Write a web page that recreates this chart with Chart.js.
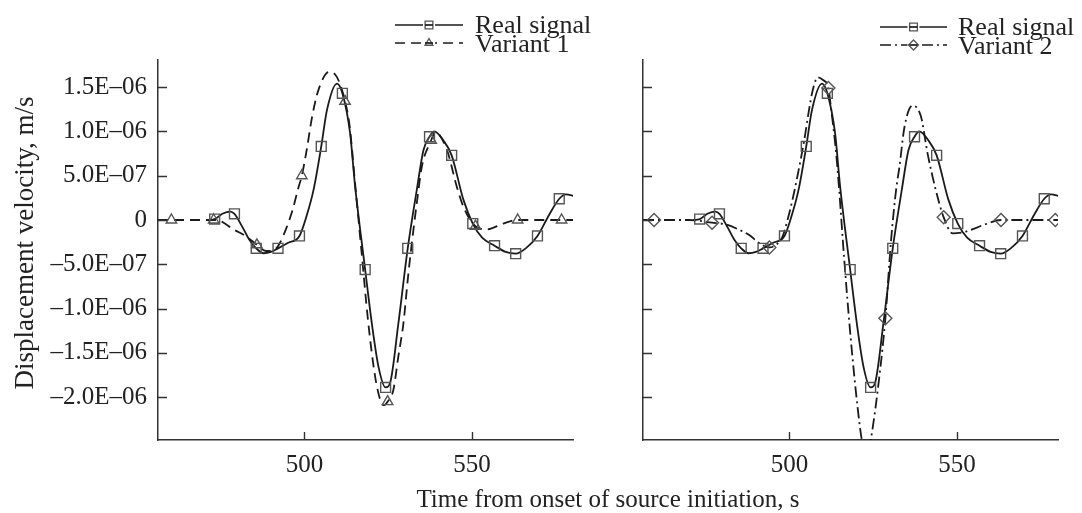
<!DOCTYPE html>
<html>
<head>
<meta charset="utf-8">
<script src="https://cdn.jsdelivr.net/npm/chart.js@4"></script>
<style>
  html, body { margin:0; padding:0; background:#fff; }
  body { width:1082px; height:513px; overflow:hidden; position:relative;
         font-family:"Liberation Serif","Times New Roman",serif; color:#222; }
  #c1 { position:absolute; left:0; top:0; }
  #c2 { position:absolute; left:600px; top:0; }
  #xtitle { position:absolute; left:308px; width:600px; top:484px; height:30px;
            line-height:30px; text-align:center; font-size:25px; white-space:nowrap; }
  #ytitle { position:absolute; left:-176px; top:228px; width:400px; height:30px;
            line-height:30px; text-align:center; font-size:27px; white-space:nowrap;
            transform:rotate(-90deg); }
</style>
</head>
<body>
<canvas id="c1" width="600" height="513"></canvas>
<canvas id="c2" width="482" height="513"></canvas>
<div id="xtitle">Time from onset of source initiation, s</div>
<div id="ytitle">Displacement velocity, m/s</div>
<script>
// ---- data (time in s, velocity in units of 1E−07 m/s) ----
const xTicks = [500, 550];
const xTickLabels = ['500', '550'];
const yTicks = [-20, -15, -10, -5, 0, 5, 10, 15];
const yTickLabels = ['–2.0E–06', '–1.5E–06', '–1.0E–06', '–5.0E–07', '0', '5.0E–07', '1.0E–06', '1.5E–06'];

const realT = [471.3, 473.2, 475.5, 477.9, 479.1, 481.5, 483.5, 485.6, 487.8, 490.0, 492.1, 495.0, 498.5, 500.5, 502.7, 505.0, 506.7, 509.7, 511.3, 513.6, 515.1, 518.1, 520.1, 522.1, 524.2, 525.6, 528.0, 530.8, 533.5, 535.5, 537.3, 538.7, 541.4, 543.9, 547.4, 550.2, 553.0, 556.7, 560.0, 563.0, 566.0, 569.5, 573.0, 576.0, 578.0, 580.5];
const realV = [0, 0.1, 0.7, 0.95, 0.7, -0.8, -2.2, -3.2, -3.75, -3.6, -3.2, -2.6, -1.8, 0.3, 3.4, 8.3, 12.4, 15.4, 14.3, 9.8, 3.8, -5.6, -11.7, -16.6, -18.9, -18.3, -11.7, -3.2, 3.4, 7.9, 9.4, 10.0, 9.0, 7.3, 2.3, -0.4, -2.0, -2.9, -3.6, -3.8, -3.2, -1.8, 0.6, 2.4, 2.9, 2.7];
const realMarkT = [473.2, 479.1, 485.6, 492.1, 498.5, 505.0, 511.3, 518.1, 524.2, 530.8, 537.3, 543.9, 550.2, 556.7, 563.0, 569.5, 576.0];
const realMarkV = [0.1, 0.7, -3.2, -3.2, -1.8, 8.3, 14.3, -5.6, -18.9, -3.2, 9.4, 7.3, -0.4, -2.9, -3.8, -1.8, 2.4];

const var1T = [456.3, 460.3, 466.0, 472.9, 474.8, 478.8, 482.8, 485.8, 488.5, 490.5, 492.5, 494.5, 496.5, 498.0, 499.2, 500.7, 502.2, 503.7, 505.7, 507.2, 509.2, 512.1, 513.5, 515.0, 517.0, 519.0, 521.0, 522.6, 523.6, 524.8, 526.5, 528.0, 529.5, 531.0, 532.5, 533.5, 535.0, 537.8, 539.0, 542.5, 545.4, 547.4, 551.0, 554.4, 559.3, 563.6, 570.0, 576.7, 580.2];
const var1V = [0, 0, 0, 0, -0.1, -1.05, -1.9, -2.8, -3.5, -3.5, -2.7, -1.0, 1.2, 3.4, 5.0, 8.0, 11.5, 14.1, 16.1, 16.7, 16.4, 13.4, 10.5, 4.5, -3.5, -11.5, -17.5, -20.3, -20.9, -20.5, -19.2, -15.4, -11.7, -6.0, -1.1, 1.9, 6.0, 9.0, 9.9, 7.9, 3.8, 1.5, -0.7, -1.05, -0.4, 0, 0, 0, 0];
const var1MarkT = [460.3, 472.9, 485.8, 499.2, 512.1, 524.8, 537.8, 551.0, 563.6, 576.7];
const var1MarkV = [0, 0, -2.8, 5.0, 13.4, -20.5, 9.0, -0.7, 0, 0];

const var2T = [456.3, 459.6, 470.0, 476.9, 481.0, 485.0, 488.0, 491.0, 494.0, 496.0, 497.9, 499.4, 500.9, 502.4, 504.4, 505.9, 506.9, 508.4, 510.0, 511.6, 512.4, 513.9, 514.8, 516.3, 518.3, 520.3, 521.6, 522.8, 524.2, 526.8, 528.6, 530.3, 531.8, 532.8, 534.3, 536.7, 539.2, 541.2, 543.5, 546.0, 548.7, 552.7, 557.6, 563.1, 570.0, 579.3, 580.2];
const var2V = [0, 0, 0, -0.3, -0.5, -1.1, -1.7, -2.6, -3.1, -2.8, -1.9, 0.0, 2.3, 5.0, 9.0, 12.6, 14.6, 16.1, 15.8, 14.9, 12.6, 7.6, 3.5, -4.3, -13.5, -21.1, -24.9, -27.0, -24.9, -17.7, -11.1, -2.3, 3.4, 6.0, 10.5, 12.9, 11.7, 7.5, 3.6, 0.3, -1.5, -1.3, -0.6, 0, 0, 0, 0];
const var2MarkT = [459.6, 476.9, 494.0, 511.6, 528.6, 546.0, 563.1, 579.3];
const var2MarkV = [0, -0.3, -3.1, 14.9, -11.1, 0.3, 0, 0];

const seriesNames = ['Real signal', 'Variant 1', 'Variant 2'];

// ---- helpers ----
const pts = (xs, ys) => xs.map((x, i) => ({ x: x, y: ys[i] }));
const SERIF = '"Liberation Serif","Times New Roman",serif';
const LINE_COLOR = '#1a1a1a';
const MARK_COLOR = '#555';

const styles = {
  real: { dash: [], point: 'rect', r: 7 },
  v1:   { dash: [10, 6], point: 'triangle', r: 6 },
  v2:   { dash: [11, 4, 2, 4], point: 'rectRot', r: 6.5 }
};

function lineDs(label, data, st) {
  return { label, data, borderColor: LINE_COLOR, borderWidth: 1.8, borderDash: st.dash,
           pointRadius: 0, cubicInterpolationMode: 'monotone', fill: false, order: 2 };
}
function markDs(label, data, st) {
  return { label, data, showLine: false, pointStyle: st.point, pointRadius: st.r,
           pointBorderColor: MARK_COLOR, pointBackgroundColor: 'rgba(0,0,0,0)',
           pointBorderWidth: 1.4, order: 1 };
}

const inwardTicks = {
  id: 'inwardTicks',
  afterDraw(chart) {
    const ctx = chart.ctx, xs = chart.scales.x, ys = chart.scales.y, a = chart.chartArea;
    ctx.save();
    ctx.strokeStyle = '#333'; ctx.lineWidth = 1.4;
    ctx.beginPath();
    xTicks.forEach(v => { const p = Math.round(xs.getPixelForValue(v)) + 0.5;
      ctx.moveTo(p, a.bottom); ctx.lineTo(p, a.bottom - 8); });
    yTicks.forEach(v => { const p = Math.round(ys.getPixelForValue(v)) + 0.5;
      ctx.moveTo(a.left, p); ctx.lineTo(a.left + 9, p); });
    ctx.stroke();
    ctx.restore();
  }
};

const sketchLegend = {
  id: 'sketchLegend',
  afterDraw(chart, args, opts) {
    if (!opts || !opts.items) return;
    const ctx = chart.ctx;
    ctx.save();
    opts.items.forEach((it, i) => {
      const y = opts.y[i];
      ctx.strokeStyle = LINE_COLOR; ctx.lineWidth = 1.7;
      ctx.setLineDash(it.style.dash);
      ctx.beginPath(); ctx.moveTo(opts.x1, y); ctx.lineTo(opts.x2, y); ctx.stroke();
      ctx.setLineDash([]);
      ctx.fillStyle = '#fff';
      const cx = (opts.x1 + opts.x2) / 2;
      ctx.fillRect(cx - 6, y - 6, 12, 12);
      ctx.strokeStyle = MARK_COLOR; ctx.lineWidth = 1.3;
      Chart.helpers.drawPoint(ctx, { pointStyle: it.style.point, radius: it.style.r - 1.5, rotation: 0, borderWidth: 1.3 }, cx, y);
      ctx.strokeStyle = LINE_COLOR; ctx.lineWidth = 1.7;
      ctx.setLineDash(it.style.dash);
      ctx.beginPath(); ctx.moveTo(cx - 4, y); ctx.lineTo(cx + 4, y); ctx.stroke();
      ctx.setLineDash([]);
      ctx.fillStyle = '#222';
      ctx.font = '26px ' + SERIF;
      ctx.textBaseline = 'alphabetic';
      ctx.textAlign = 'left';
      ctx.fillText(it.label, opts.tx, opts.base[i]);
    });
    ctx.restore();
  }
};

function makeOptions(showYLabels, yWidth, padRight, legendOpts) {
  return {
    responsive: false, animation: false,
    layout: { padding: { top: 60, right: padRight, bottom: 0, left: 0 } },
    plugins: { legend: { display: false }, tooltip: { enabled: false }, sketchLegend: legendOpts },
    scales: {
      x: {
        type: 'linear', min: 456.3, max: 580.1,
        afterBuildTicks: s => { s.ticks = xTicks.map(v => ({ value: v })); },
        afterFit: s => { s.height = 73; },
        grid: { display: false, drawTicks: false },
        border: { display: true, color: '#333', width: 1.5 },
        ticks: { color: '#222', font: { family: SERIF, size: 25 }, padding: 10, maxRotation: 0,
                 callback: v => xTickLabels[xTicks.indexOf(v)] }
      },
      y: {
        type: 'linear', min: -24.83, max: 18.06,
        afterBuildTicks: s => { s.ticks = yTicks.map(v => ({ value: v })); },
        afterFit: s => { s.width = yWidth; },
        grid: { display: false, drawTicks: false },
        border: { display: true, color: '#333', width: 1.5 },
        ticks: { display: showYLabels, color: '#222', font: { family: SERIF, size: 25 }, padding: 11,
                 callback: v => yTickLabels[yTicks.indexOf(v)] }
      }
    }
  };
}

new Chart(document.getElementById('c1'), {
  type: 'line',
  data: { datasets: [
    lineDs(seriesNames[1], pts(var1T, var1V), styles.v1),
    lineDs(seriesNames[0], pts(realT, realV), styles.real),
    markDs(seriesNames[1] + ' markers', pts(var1MarkT, var1MarkV), styles.v1),
    markDs(seriesNames[0] + ' markers', pts(realMarkT, realMarkV), styles.real)
  ]},
  options: makeOptions(true, 158, 27, {
    items: [{ label: seriesNames[0], style: styles.real }, { label: seriesNames[1], style: styles.v1 }],
    x1: 395, x2: 463, tx: 475, y: [25, 43], base: [33, 52]
  }),
  plugins: [inwardTicks, sketchLegend]
});

new Chart(document.getElementById('c2'), {
  type: 'line',
  data: { datasets: [
    lineDs(seriesNames[2], pts(var2T, var2V), styles.v2),
    lineDs(seriesNames[0], pts(realT, realV), styles.real),
    markDs(seriesNames[2] + ' markers', pts(var2MarkT, var2MarkV), styles.v2),
    markDs(seriesNames[0] + ' markers', pts(realMarkT, realMarkV), styles.real)
  ]},
  options: makeOptions(false, 43, 24, {
    items: [{ label: seriesNames[0], style: styles.real }, { label: seriesNames[2], style: styles.v2 }],
    x1: 280, x2: 347, tx: 358, y: [27, 45], base: [35, 54]
  }),
  plugins: [inwardTicks, sketchLegend]
});
</script>
</body>
</html>
